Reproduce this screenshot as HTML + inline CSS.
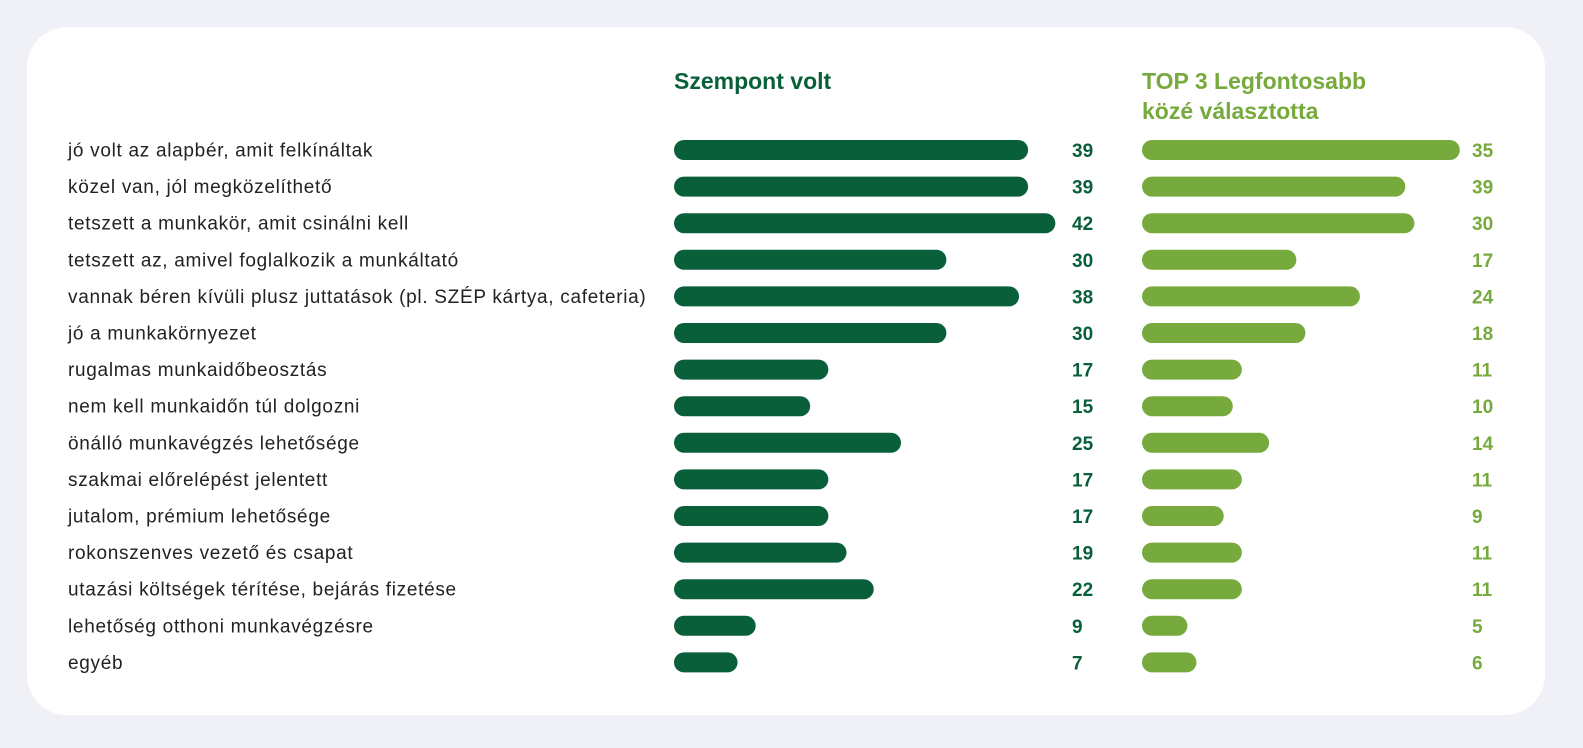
<!DOCTYPE html>
<html><head><meta charset="utf-8">
<style>
body{margin:0;background:#f0f1f7;width:1583px;height:748px;overflow:hidden;font-family:"Liberation Sans",sans-serif}
#card{position:absolute;left:27px;top:27px;width:1518px;height:688px;background:#fff;border-radius:40px}
svg{position:absolute;left:0;top:0}
</style></head><body>
<div id="card"></div>
<svg id="chart" width="1583" height="748">
<text x="674" y="89" font-family="'Liberation Sans',sans-serif" font-weight="bold" font-size="23" fill="#0a5f3b">Szempont volt</text>
<text x="1142" y="89" font-family="'Liberation Sans',sans-serif" font-weight="bold" font-size="23" fill="#77aa3c">TOP 3 Legfontosabb</text>
<text x="1142" y="119" font-family="'Liberation Sans',sans-serif" font-weight="bold" font-size="23" fill="#77aa3c">közé választotta</text>
</svg>
<script>
const categories=["jó volt az alapbér, amit felkínáltak","közel van, jól megközelíthető","tetszett a munkakör, amit csinálni kell","tetszett az, amivel foglalkozik a munkáltató","vannak béren kívüli plusz juttatások (pl. SZÉP kártya, cafeteria)","jó a munkakörnyezet","rugalmas munkaidőbeosztás","nem kell munkaidőn túl dolgozni","önálló munkavégzés lehetősége","szakmai előrelépést jelentett","jutalom, prémium lehetősége","rokonszenves vezető és csapat","utazási költségek térítése, bejárás fizetése","lehetőség otthoni munkavégzésre","egyéb"];
const szempontValues=[39,39,42,30,38,30,17,15,25,17,17,19,22,9,7];
const top3Values=[35,29,30,17,24,18,11,10,14,11,9,11,11,5,6];
const top3Labels=[35,39,30,17,24,18,11,10,14,11,9,11,11,5,6];
const svg=document.getElementById('chart');
const NS='http://www.w3.org/2000/svg';
const PX=9.08;
function xDark(v){return 674+v*PX;}
function xLight(v){return 1142+v*PX;}
function yRow(i){return 150+i*36.6;}
function mk(t,a){const e=document.createElementNS(NS,t);for(const k in a)e.setAttribute(k,a[k]);svg.appendChild(e);return e;}
categories.forEach((c,i)=>{
 const y=yRow(i);
 const lab=mk('text',{x:68,y:y+6.5,'font-size':19,'letter-spacing':0.7,fill:'#222'});lab.textContent=c;
 
 
 const w1=xDark(szempontValues[i])-674;
 const b1=mk('rect',{x:674,y:y-10,width:w1,height:20,rx:10,fill:'#0a5f3b'});
 
 
 const v1=mk('text',{x:1072,y:y+7,'font-size':19,'font-weight':'bold',fill:'#0a5f3b'});v1.textContent=szempontValues[i];
 
 
 const w2=xLight(top3Values[i])-1142;
 const b2=mk('rect',{x:1142,y:y-10,width:w2,height:20,rx:10,fill:'#77aa3c'});
 
 
 const v2=mk('text',{x:1472,y:y+7,'font-size':19,'font-weight':'bold',fill:'#77aa3c'});v2.textContent=top3Labels[i];
 
 
});
</script>
</body></html>
